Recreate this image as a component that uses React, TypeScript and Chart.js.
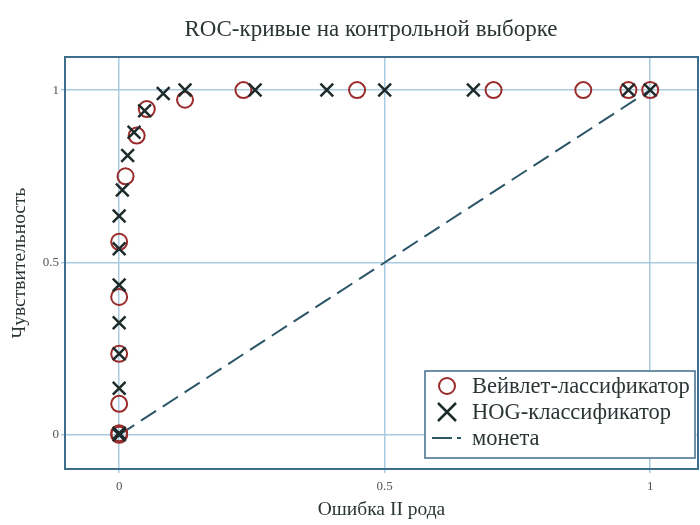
import React, { useEffect, useRef } from "react";
import { Chart, registerables } from "chart.js";

Chart.register(...registerables);

const TITLE = "ROC-кривые на контрольной выборке";
const X_TITLE = "Ошибка II рода";
const Y_TITLE = "Чувствительность";
const LEGEND_LABELS = ["Вейвлет-лассификатор", "HOG-классификатор", "монета"];
const TICK_VALUES = [0, 0.5, 1];
const TICK_LABELS = ["0", "0.5", "1"];

const waveletFpr = [0, 0, 0, 0, 0, 0, 0.012, 0.033, 0.052, 0.124, 0.234, 0.448, 0.705, 0.874, 0.959, 1.0];
const waveletTpr = [0, 0.005, 0.09, 0.235, 0.4, 0.56, 0.75, 0.868, 0.945, 0.972, 1, 1, 1, 1, 1, 1];

const hogFpr = [0, 0, 0, 0, 0, 0, 0, 0, 0.006, 0.016, 0.028, 0.048, 0.083, 0.124, 0.256, 0.391, 0.5, 0.667, 0.959, 1.0];
const hogTpr = [0, 0.005, 0.135, 0.235, 0.325, 0.435, 0.54, 0.635, 0.71, 0.81, 0.878, 0.94, 0.99, 1, 1, 1, 1, 1, 1, 1];

const coinFpr = [0, 1];
const coinTpr = [0, 1];

const SERIF = "'Liberation Serif', 'Times New Roman', serif";
const FRAME = "#3f6e8c";
const GRID = "#a9cbe2";
const TEXT = "#2b3535";
const RED = "#9a2b2b";
const DARK = "#1d2b2b";
const COIN = "#2c5668";

const zip = (xs: number[], ys: number[]) => xs.map((x, i) => ({ x, y: ys[i] }));

const decorPlugin = {
  id: "decor",
  beforeDatasetsDraw(chart: any) {
    const { ctx, chartArea } = chart;
    ctx.save();
    ctx.strokeStyle = FRAME;
    ctx.lineWidth = 2;
    ctx.strokeRect(chartArea.left, chartArea.top, chartArea.right - chartArea.left, chartArea.bottom - chartArea.top);
    ctx.restore();
  },
  afterDraw(chart: any) {
    const { ctx, chartArea } = chart;
    ctx.save();
    // title
    ctx.fillStyle = TEXT;
    ctx.font = `23px ${SERIF}`;
    ctx.textAlign = "center";
    ctx.textBaseline = "middle";
    ctx.fillText(TITLE, 371, 30);

    // legend box
    const bx = chartArea.right - 273;
    const by = chartArea.bottom - 98;
    const bw = 270;
    const bh = 87;
    ctx.fillStyle = "#ffffff";
    ctx.fillRect(bx, by, bw, bh);
    ctx.strokeStyle = FRAME;
    ctx.lineWidth = 1.5;
    ctx.strokeRect(bx, by, bw, bh);

    const rows = [by + 15, by + 41, by + 67];
    const mx = bx + 22;
    // circle
    ctx.strokeStyle = RED;
    ctx.lineWidth = 2;
    ctx.beginPath();
    ctx.arc(mx, rows[0], 8, 0, Math.PI * 2);
    ctx.stroke();
    // cross
    ctx.strokeStyle = DARK;
    ctx.lineWidth = 2.5;
    ctx.beginPath();
    ctx.moveTo(mx - 9, rows[1] - 9);
    ctx.lineTo(mx + 9, rows[1] + 9);
    ctx.moveTo(mx + 9, rows[1] - 9);
    ctx.lineTo(mx - 9, rows[1] + 9);
    ctx.stroke();
    // dashed line
    ctx.strokeStyle = COIN;
    ctx.lineWidth = 2;
    ctx.setLineDash([20, 5, 4, 100]);
    ctx.beginPath();
    ctx.moveTo(bx + 7, rows[2]);
    ctx.lineTo(bx + 37, rows[2]);
    ctx.stroke();
    ctx.setLineDash([]);

    ctx.fillStyle = TEXT;
    ctx.font = `22.5px ${SERIF}`;
    ctx.textAlign = "left";
    ctx.textBaseline = "middle";
    LEGEND_LABELS.forEach((t, i) => ctx.fillText(t, bx + 47, rows[i] + 1));
    ctx.restore();
  },
};

export default function App() {
  const ref = useRef<HTMLCanvasElement | null>(null);

  useEffect(() => {
    if (!ref.current) return;
    const setTicks = (scale: any) => {
      scale.ticks = TICK_VALUES.map((v) => ({ value: v }));
    };
    const fmt = (v: any) => {
      const i = TICK_VALUES.indexOf(Number(v));
      return i >= 0 ? TICK_LABELS[i] : "";
    };
    const chart = new Chart(ref.current, {
      type: "scatter",
      data: {
        datasets: [
          {
            label: LEGEND_LABELS[2],
            type: "line",
            data: zip(coinFpr, coinTpr),
            showLine: true,
            borderColor: COIN,
            borderWidth: 2,
            borderDash: [18, 8],
            pointRadius: 0,
            fill: false,
            order: 3,
          } as any,
          {
            label: LEGEND_LABELS[0],
            data: zip(waveletFpr, waveletTpr),
            pointStyle: "circle",
            pointRadius: 8,
            pointBorderWidth: 2,
            borderColor: RED,
            backgroundColor: "rgba(0,0,0,0)",
            order: 2,
          },
          {
            label: LEGEND_LABELS[1],
            data: zip(hogFpr, hogTpr),
            pointStyle: "crossRot",
            pointRadius: 9,
            pointBorderWidth: 2.5,
            borderColor: DARK,
            backgroundColor: DARK,
            order: 1,
          },
        ],
      },
      options: {
        animation: false,
        responsive: false,
        devicePixelRatio: 1,
        layout: { autoPadding: false, padding: { top: 57, right: 2, left: 0, bottom: 0 } },
        plugins: {
          legend: { display: false },
          tooltip: { enabled: false },
          title: { display: false },
        },
        scales: {
          x: {
            type: "linear",
            min: -0.102,
            max: 1.09,
            afterBuildTicks: setTicks,
            afterFit: (s: any) => {
              s.height = 56;
              s.paddingLeft = 0;
              s.paddingRight = 0;
            },
            grid: { color: GRID, lineWidth: 1.5, drawTicks: true, tickLength: 4, tickColor: GRID },
            border: { display: false },
            ticks: {
              callback: fmt,
              color: "#555",
              font: { family: SERIF, size: 13 },
              padding: 6,
              maxRotation: 0,
            },
            title: {
              display: true,
              text: X_TITLE,
              color: TEXT,
              font: { family: SERIF, size: 19.5 },
              padding: { top: 0, bottom: 3 },
            },
          },
          y: {
            type: "linear",
            min: -0.099,
            max: 1.096,
            afterBuildTicks: setTicks,
            afterFit: (s: any) => {
              s.width = 65;
              s.paddingTop = 0;
              s.paddingBottom = 0;
            },
            grid: { color: GRID, lineWidth: 1.5, drawTicks: true, tickLength: 4, tickColor: GRID },
            border: { display: false },
            ticks: {
              callback: fmt,
              color: "#555",
              font: { family: SERIF, size: 13 },
              padding: 2,
            },
            title: {
              display: true,
              text: Y_TITLE,
              color: TEXT,
              font: { family: SERIF, size: 19.5 },
              padding: { top: 8, bottom: 0 },
            },
          },
        },
      },
      plugins: [decorPlugin],
    });
    return () => chart.destroy();
  }, []);

  return (
    <div style={{ position: "absolute", left: 0, top: 0, width: 700, height: 525, background: "#fff" }}>
      <canvas ref={ref} width={700} height={525} style={{ width: 700, height: 525, display: "block" }} />
    </div>
  );
}
